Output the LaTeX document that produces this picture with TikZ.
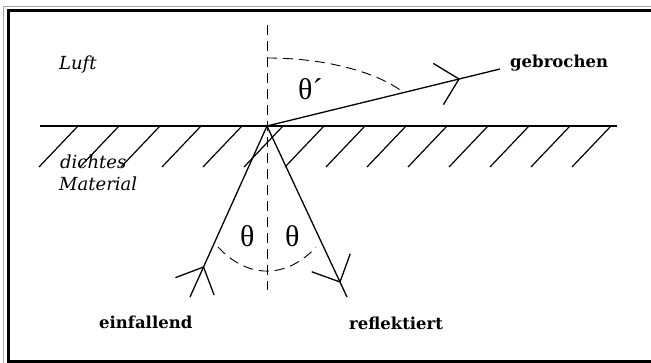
\documentclass[tikz,border=0pt]{standalone}
\usepackage{fontspec}
\setmainfont{DejaVu Serif}
\newfontfamily\greekfont{Liberation Serif}
\usetikzlibrary{calc}
\begin{document}
\begin{tikzpicture}[x=1pt,y=-1pt,
  ray/.style={line width=1.3pt},
  surface/.style={line width=1.4pt},
  hatch/.style={line width=1.2pt},
  helper/.style={line width=0.9pt, dash pattern=on 10pt off 6pt},
  lbl/.style={inner sep=0pt, anchor=base west, font=\fontsize{16.5}{19}\selectfont\bfseries},
  ital/.style={inner sep=0pt, anchor=base west, font=\fontsize{18}{21}\selectfont\itshape},
  ang/.style={inner sep=0pt, anchor=base west, font=\greekfont\fontsize{30}{34}\selectfont}]
\useasboundingbox (0,0) rectangle (651,363);
% frame
\draw[line width=1pt, gray!70] (3.3,363) -- (3.3,6.6) -- (651,6.6);
\draw[line width=3pt] (651,10.7) -- (8.5,10.7) -- (8.5,362) -- (651,362);
% points
\coordinate (O) at (267,126);
\coordinate (S1) at (190,297);
\coordinate (T1) at (203.5,267);
\coordinate (E2) at (347,297);
\coordinate (T2) at (340,282);
\coordinate (E3) at (500,69);
\coordinate (T3) at (459,79);
\coordinate (NT) at (267,25);
\coordinate (NB) at (267,290);
\coordinate (SL) at (40,126);
\coordinate (SR) at (617,126);
% surface and hatching
\draw[surface] (SL) -- (SR);
\foreach \k in {0,...,13}{
  \draw[hatch] ({78+41*\k},126) -- ({39+41*\k},167);
}
% normal
\draw[helper] (NT) -- (NB);
% angle arcs
\draw[helper] (267,58) arc[start angle=90, end angle=30, x radius=157pt, y radius=68pt];
\draw[helper] (218,247) arc[start angle=236.5, end angle=303.5, x radius=88.9pt, y radius=145pt];
% rays
\draw[ray] (S1) -- (O) -- (E2);
\draw[ray] (O) -- (E3);
% arrowheads
\draw[ray] ($(T1)!30pt!45:(S1)$) -- (T1) -- ($(T1)!30pt!-45:(S1)$);
\draw[ray] ($(T2)!30pt!45:(O)$) -- (T2) -- ($(T2)!30pt!-45:(O)$);
\draw[ray] ($(T3)!30pt!45:(O)$) -- (T3) -- ($(T3)!30pt!-45:(O)$);
% labels
\node[ital] (luft) at (59,70) {Luft};
\node[ital] (dichtes) at (60,169) {dichtes};
\node[ital] (material) at (59,191) {Material};
\node[lbl] (gebrochen) at (510,68) {gebrochen};
\node[lbl] (einfallend) at (99,329) {einfallend};
\node[lbl] (reflektiert) at (349,330) {reflektiert};
\node[ang] (thp) at (298,100) {θ´};
\node[ang] (th1) at (240,247) {θ};
\node[ang] (th2) at (285,247) {θ};
\end{tikzpicture}
\end{document}
